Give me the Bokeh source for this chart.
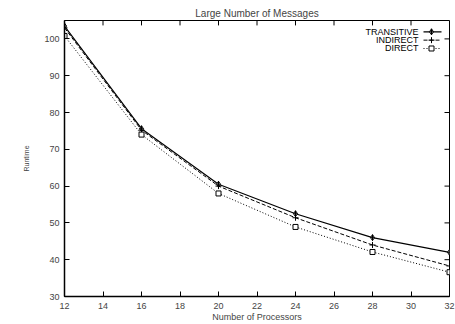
from bokeh.plotting import figure
from bokeh.models import Range1d, FixedTicker
from bokeh.core.properties import value
from bokeh.embed import file_html
from bokeh.resources import INLINE

processors = [12, 16, 20, 24, 28, 32]
transitive = [103.5, 75.6, 60.5, 52.5, 46.0, 42.0]
indirect = [103.0, 75.2, 60.0, 51.4, 44.0, 38.3]
direct = [100.8, 74.0, 58.0, 48.9, 42.1, 36.6]
series_names = ["TRANSITIVE", "INDIRECT", "DIRECT"]
x_ticks = [12, 14, 16, 18, 20, 22, 24, 26, 28, 30, 32]
y_ticks = [30, 40, 50, 60, 70, 80, 90, 100]

FONT = "Liberation Sans"
FS = "9px"
W, H = 455, 324
L, R, T, B = 64, 6, 20, 23
X0, X1, Y0, Y1 = 12, 32, 30, 105

p = figure(width=W, height=H, output_backend="svg", toolbar_location=None,
           x_range=Range1d(X0, X1), y_range=Range1d(Y0, Y1),
           min_border_left=L, min_border_right=R, min_border_top=T, min_border_bottom=B,
           x_axis_label="Number of Processors", y_axis_label="Runtime")
p.grid.visible = False
p.outline_line_color = "black"
p.outline_line_width = 1
p.background_fill_color = "white"
p.border_fill_color = "white"

p.title.text = "Large Number of Messages"
p.title.align = "center"
p.title.text_font = FONT
p.title.text_font_size = "10px"
p.title.text_font_style = "normal"
p.title.offset = 0
p.title.standoff = 4

for ax in (p.xaxis[0], p.yaxis[0]):
    ax.major_tick_in = 5
    ax.major_tick_out = 0
    ax.minor_tick_in = 0
    ax.minor_tick_out = 0
    ax.major_label_text_font = FONT
    ax.major_label_text_font_size = FS
    ax.axis_label_text_font = FONT
    ax.axis_label_text_font_size = FS
    ax.axis_label_text_font_style = "normal"
    ax.axis_line_width = 1.5
    ax.major_tick_line_width = 1

p.xaxis[0].ticker = FixedTicker(ticks=x_ticks)
p.yaxis[0].ticker = FixedTicker(ticks=y_ticks)
p.xaxis[0].major_label_standoff = 6
p.xaxis[0].axis_label_standoff = 0
p.yaxis[0].major_label_standoff = 5
p.yaxis[0].axis_label_standoff = 11
p.yaxis[0].axis_label_text_font_size = "7px"

fw = W - L - R
fh = H - T - B
def sx(px):
    return X0 + (px - L) / fw * (X1 - X0)
def sy(py):
    return Y1 - (py - T) / fh * (Y1 - Y0)

# mirror ticks on top and right (gnuplot style)
tick_len = 5
p.segment(x0=x_ticks, y0=[Y1] * len(x_ticks), x1=x_ticks,
          y1=[sy(T + tick_len)] * len(x_ticks), line_color="black", line_width=1)
p.segment(x0=[X1] * len(y_ticks), y0=y_ticks, x1=[sx(W - R - tick_len)] * len(y_ticks),
          y1=y_ticks, line_color="black", line_width=1)

# series
p.line(processors, transitive, line_color="black", line_width=1.2)
p.scatter(processors, transitive, marker="diamond_cross", size=6, line_color="black",
          fill_color="white", line_width=1)
p.line(processors, indirect, line_color="black", line_width=1, line_dash="4 2")
p.scatter(processors, indirect, marker="cross", size=6, line_color="black", line_width=1)
p.line(processors, direct, line_color="black", line_width=1, line_dash="1 2")
p.scatter(processors, direct, marker="square", size=5, line_color="black",
          fill_color="white", line_width=1)

# gnuplot-style legend (label left, sample right)
rows = [31.5, 40, 48.5]
styles = [dict(line_width=1.2), dict(line_width=1, line_dash="4 2"), dict(line_width=1, line_dash="1 2")]
markers = [("diamond_cross", 6, "white"), ("cross", 6, None), ("square", 5, "white")]
for name, ry, st, (mk, ms, mf) in zip(series_names, rows, styles, markers):
    p.text([sx(418)], [sy(ry)], text=[name], text_align="right", text_baseline="middle",
           text_font=value(FONT), text_font_size=FS, text_color="black")
    p.line([sx(423), sx(441)], [sy(ry), sy(ry)], line_color="black", **st)
    if mf:
        p.scatter([sx(431)], [sy(ry)], marker=mk, size=ms, line_color="black", fill_color=mf)
    else:
        p.scatter([sx(431)], [sy(ry)], marker=mk, size=ms, line_color="black")

open("out.html", "w").write(file_html(p, INLINE))
